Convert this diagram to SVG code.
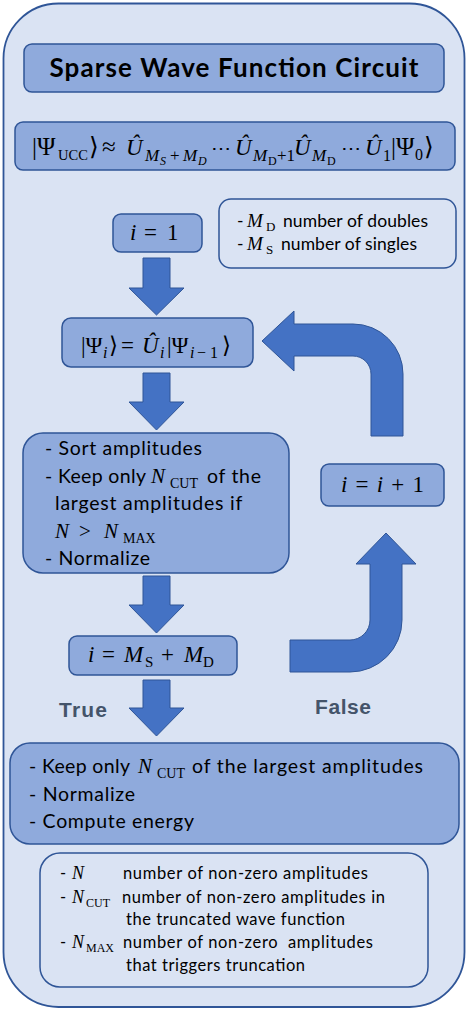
<svg xmlns="http://www.w3.org/2000/svg" width="471" height="1012" viewBox="0 0 471 1012">
<style>
.frame{fill:#dae3f3;stroke:#2f5597;stroke-width:1.8}
.box{fill:#8faadc;stroke:#2f5597;stroke-width:1.5}
.leg{fill:none;stroke:#2f5597;stroke-width:1.5}
.arr{fill:#4472c4;stroke:#2f5597;stroke-width:1}
.t{font-family:Lato,"Open Sans","Liberation Sans",sans-serif;fill:#000}
.m{font-family:"Liberation Serif","DejaVu Serif",serif;fill:#000}
.i{font-style:italic}
.u{font-style:italic;font-size:23px}
.dots{font-size:20px}
.lbl{font-family:"Liberation Sans",Arial,sans-serif;font-weight:bold;font-size:21px;fill:#44546a}
</style>
<rect class="frame" x="3.5" y="3.5" width="461" height="1003.5" rx="55"/>

<g id="title">
<rect class="box" x="24" y="44" width="420" height="48" rx="8"/>
<text class="t" x="234" y="77" text-anchor="middle" font-weight="bold" font-size="26" textLength="369">Sparse Wave Function Circuit</text>
</g>

<g id="formula">
<rect class="box" x="15" y="122" width="440" height="48" rx="8"/>
<text class="m" font-size="25">
<tspan x="32" y="155">|Ψ</tspan><tspan x="58" y="160" font-size="14.5">UCC</tspan><tspan x="89" y="155">⟩</tspan>
<tspan x="102" y="155">≈</tspan>
<tspan x="126" y="155" class="u">Û</tspan><tspan x="145" y="161" font-size="17" class="i">M</tspan><tspan x="160" y="165" font-size="12" class="i">S</tspan><tspan x="170" y="161" font-size="17">+</tspan><tspan x="183" y="161" font-size="17" class="i">M</tspan><tspan x="198" y="165" font-size="12" class="i">D</tspan>
<tspan x="211" y="155" class="dots">⋯</tspan>
<tspan x="235" y="155" class="u">Û</tspan><tspan x="253" y="161" font-size="17" class="i">M</tspan><tspan x="268" y="165" font-size="12">D</tspan><tspan x="277" y="161" font-size="17">+1</tspan>
<tspan x="294" y="155" class="u">Û</tspan><tspan x="312" y="161" font-size="17" class="i">M</tspan><tspan x="327" y="165" font-size="12">D</tspan>
<tspan x="341" y="155" class="dots">⋯</tspan>
<tspan x="365" y="155" class="u">Û</tspan><tspan x="383" y="161" font-size="16">1</tspan>
<tspan x="391" y="155">|Ψ</tspan><tspan x="415" y="160" font-size="16">0</tspan><tspan x="424" y="155">⟩</tspan>
</text>
</g>

<g id="legend-m">
<rect class="leg" x="219" y="199" width="237" height="69" rx="12"/>
<text class="t" font-size="17.5"><tspan x="237" y="227">-</tspan><tspan x="283" y="227" textLength="145">number of doubles</tspan><tspan x="237" y="250">-</tspan><tspan x="281" y="250" textLength="136">number of singles</tspan></text>
<text class="m" font-size="19"><tspan x="247" y="227" class="i">M</tspan><tspan x="266" y="231" font-size="13">D</tspan><tspan x="247" y="250" class="i">M</tspan><tspan x="266" y="254" font-size="13">S</tspan></text>
</g>

<g id="init">
<rect class="box" x="113" y="214" width="89" height="38" rx="8"/>
<text class="m" font-size="23"><tspan x="130" y="240" class="i">i</tspan><tspan x="144" y="240">=</tspan><tspan x="167" y="240">1</tspan></text>
</g>

<g id="apply">
<rect class="box" x="62" y="318" width="191" height="49" rx="9"/>
<text class="m" font-size="23">
<tspan x="81" y="353">|Ψ</tspan><tspan x="103" y="358" font-size="16" class="i">i</tspan><tspan x="109" y="353">⟩</tspan>
<tspan x="121" y="353">=</tspan>
<tspan x="142" y="353" class="i">Û</tspan><tspan x="160" y="358" font-size="16" class="i">i</tspan><tspan x="167" y="353">|Ψ</tspan><tspan x="190" y="358" font-size="16" class="i">i</tspan><tspan x="197" y="358" font-size="16">−</tspan><tspan x="210" y="358" font-size="16">1</tspan><tspan x="222" y="353">⟩</tspan>
</text>
</g>

<g id="truncate">
<rect class="box" x="23" y="433" width="266" height="140" rx="20"/>
<text class="t" font-size="19.5">
<tspan x="45" y="455" textLength="157">- Sort amplitudes</tspan>
<tspan x="45" y="483" textLength="101">- Keep only</tspan><tspan x="207" y="483" textLength="54">of the</tspan>
<tspan x="55" y="510" textLength="187">largest amplitudes if</tspan>
<tspan x="45" y="565" textLength="105">- Normalize</tspan>
</text>
<text class="m" font-size="21">
<tspan x="151" y="483" class="i">N</tspan><tspan x="170" y="488" font-size="14">CUT</tspan>
<tspan x="55" y="538" class="i">N</tspan><tspan x="79" y="538">&gt;</tspan><tspan x="104" y="538" class="i">N</tspan><tspan x="123" y="543" font-size="14">MAX</tspan>
</text>
</g>

<g id="increment">
<rect class="box" x="321" y="464" width="123" height="42" rx="8"/>
<text class="m" font-size="23" x="382.5" y="492" text-anchor="middle" textLength="83"><tspan class="i">i</tspan> = <tspan class="i">i</tspan> + 1</text>
</g>

<g id="check">
<rect class="box" x="69" y="636" width="168" height="39" rx="8"/>
<text class="m" font-size="23">
<tspan x="88" y="662" class="i">i</tspan><tspan x="102" y="662">=</tspan><tspan x="124" y="662" class="i">M</tspan><tspan x="145" y="667" font-size="15">S</tspan><tspan x="161" y="662">+</tspan><tspan x="184" y="662" class="i">M</tspan><tspan x="203" y="667" font-size="15">D</tspan>
</text>
</g>

<g id="final">
<rect class="box" x="10" y="743" width="449" height="101" rx="20"/>
<text class="t" font-size="19.5">
<tspan x="29" y="773" textLength="101">- Keep only</tspan><tspan x="192" y="773" textLength="231">of the largest amplitudes</tspan>
<tspan x="29" y="801" textLength="106">- Normalize</tspan>
<tspan x="29" y="828" textLength="165">- Compute energy</tspan>
</text>
<text class="m" font-size="21"><tspan x="138" y="773" class="i">N</tspan><tspan x="157" y="778" font-size="14">CUT</tspan></text>
</g>

<g id="legend-n">
<rect class="leg" x="40" y="853" width="388" height="134" rx="20"/>
<text class="t" font-size="16.5" xml:space="preserve">
<tspan x="60" y="879">-</tspan><tspan x="123" y="879" textLength="245">number of non-zero amplitudes</tspan>
<tspan x="60" y="903">-</tspan><tspan x="122" y="903" textLength="263">number of non-zero amplitudes in</tspan>
<tspan x="126" y="925" textLength="219">the truncated wave function</tspan>
<tspan x="60" y="948">-</tspan><tspan x="123" y="948" textLength="250">number of non-zero  amplitudes</tspan>
<tspan x="126" y="971" textLength="179">that triggers truncation</tspan>
</text>
<text class="m" font-size="18">
<tspan x="72" y="879" class="i">N</tspan>
<tspan x="72" y="903" class="i">N</tspan><tspan x="86" y="907" font-size="12">CUT</tspan>
<tspan x="72" y="948" class="i">N</tspan><tspan x="86" y="952" font-size="12">MAX</tspan>
</text>
</g>

<g id="connectors">
<path class="arr" d="M143,258 H170 V288 H184 L156.5,315 L129,288 H143 Z"/>
<path class="arr" d="M143,373 H170 V402 H184 L156.5,430 L129,402 H143 Z"/>
<path class="arr" d="M143,576 H170 V605 H184 L156.5,633 L129,605 H143 Z"/>
<path class="arr" d="M143,680 H170 V708 H184 L156.5,736 L129,708 H143 Z"/>
<path class="arr" d="M262,341 L294,311 V324 H353 A50,50 0 0 1 403,374 V436 H371 V374 A18,18 0 0 0 353,356 H294 V371 Z"/>
<path class="arr" d="M290,640 H350 A20,20 0 0 0 370,620 V564 H356 L386,533 L416,564 H402 V620 A52,52 0 0 1 350,672 H290 Z"/>
<text class="lbl" x="59" y="717" textLength="48">True</text>
<text class="lbl" x="315" y="714" textLength="56">False</text>
</g>
</svg>
